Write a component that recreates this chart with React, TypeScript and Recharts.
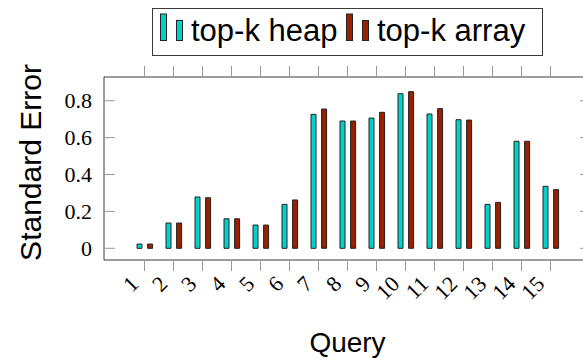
import { BarChart, Bar, XAxis, YAxis, Legend } from 'recharts';

const queries = ['1', '2', '3', '4', '5', '6', '7', '8', '9', '10', '11', '12', '13', '14', '15'];
const heapErr = [0.023, 0.137, 0.278, 0.16, 0.126, 0.238, 0.726, 0.69, 0.706, 0.838, 0.728, 0.697, 0.238, 0.58, 0.336];
const arrayErr = [0.023, 0.137, 0.274, 0.16, 0.126, 0.262, 0.755, 0.69, 0.737, 0.849, 0.757, 0.695, 0.249, 0.58, 0.318];
const yTicks = [0, 0.2, 0.4, 0.6, 0.8];
const seriesNames = ['top-k heap', 'top-k array'];

const data = queries.map((q, i) => ({ q, heap: heapErr[i], array: arrayErr[i] }));

const TICK_GRAY = '#999999';
const BOX = '#3a3a3a';
const serif = '"Liberation Serif", serif';
const sans = '"Liberation Sans", Arial, sans-serif';

const XTick = ({ x, y, payload }: any) => (
  <text
    x={x - 10}
    y={y + 7}
    textAnchor="end"
    dominantBaseline="central"
    transform={`rotate(-45, ${x - 10}, ${y + 7})`}
    fontFamily={serif}
    fontSize={22}
    fill="#000"
  >
    {payload.value}
  </text>
);

const NoLabel = () => <g />;

const YTick = ({ x, y, payload }: any) => (
  <g>
    <line x1={x} x2={x + 11} y1={y} y2={y} stroke={TICK_GRAY} strokeWidth={1} />
    <text x={x - 12} y={y} textAnchor="end" dominantBaseline="central" fontFamily={serif} fontSize={22} fill="#000">
      {payload.value === 0 ? '0' : payload.value.toFixed(1)}
    </text>
  </g>
);

const LegendBox = ({ payload }: any) => {
  const starts = [8, 194];
  const items = seriesNames
    .map((n) => (payload || []).find((p: any) => p.value === n))
    .filter(Boolean);
  return (
    <svg width={391} height={48} style={{ display: 'block' }}>
      <rect x={0.5} y={0.5} width={390} height={47} fill="#fff" stroke={BOX} />
      {items.map((p: any, i: number) => (
        <g key={p.value} transform={`translate(${starts[i]},0)`}>
          <rect x={0.5} y={6} width={6} height={26.5} fill={p.color} stroke="#222" />
          <rect x={16.5} y={12.5} width={6} height={20} fill={p.color} stroke="#222" />
          <text x={31} y={32.5} fontFamily={sans} fontSize={31} fill="#000">
            {p.value}
          </text>
        </g>
      ))}
    </svg>
  );
};

export default function App() {
  return (
    <div style={{ position: 'absolute', left: 0, top: 0, width: 583, height: 363, overflow: 'hidden', background: '#fff' }}>
      <BarChart
        width={591}
        height={363}
        data={data}
        margin={{ top: 76, right: 0, bottom: 0, left: 0 }}
        barSize={5}
        barGap={5.6}
      >
        <XAxis
          dataKey="q"
          height={103}
          padding={{ left: 26, right: 26 }}
          tickSize={11}
          tickLine={{ stroke: TICK_GRAY }}
          axisLine={{ stroke: BOX }}
          tick={<XTick />}
          interval={0}
          label={{ value: 'Query', position: 'insideBottom', offset: 11, dx: 0, fontFamily: sans, fontSize: 28, fill: '#000' }}
        />
        <XAxis
          xAxisId="top"
          dataKey="q"
          orientation="top"
          height={1}
          padding={{ left: 26, right: 26 }}
          tickSize={11}
          tickLine={{ stroke: TICK_GRAY }}
          axisLine={{ stroke: BOX }}
          tick={<NoLabel />}
          interval={0}
        />
        <YAxis
          width={104}
          domain={[-0.0634, 0.9285]}
          ticks={yTicks}
          allowDataOverflow
          tickSize={0}
          tickMargin={0}
          tickLine={false}
          axisLine={{ stroke: BOX }}
          tick={<YTick />}
          label={{
            content: ({ viewBox }: any) => (
              <text
                x={0}
                y={0}
                transform={`translate(${viewBox.x + 30}, ${viewBox.y + viewBox.height / 2 - 6}) rotate(-90)`}
                textAnchor="middle"
                dominantBaseline="central"
                fontFamily={sans}
                fontSize={30}
                fill="#000"
              >
                Standard Error
              </text>
            ),
          }}
        />
        <YAxis
          yAxisId="right"
          orientation="right"
          mirror
          width={1}
          domain={[-0.0634, 0.9285]}
          ticks={yTicks}
          allowDataOverflow
          tickSize={11}
          tickLine={{ stroke: TICK_GRAY }}
          axisLine={{ stroke: BOX }}
          tick={<NoLabel />}
        />
        <Legend
          layout="horizontal"
          verticalAlign="middle"
          align="center"
          wrapperStyle={{ position: 'absolute', left: 152, top: 8, width: 391, height: 48 }}
          content={<LegendBox />}
        />
        <Bar dataKey="heap" name="top-k heap" fill="#00d2cb" stroke="#222" strokeWidth={1} isAnimationActive={false} />
        <Bar dataKey="array" name="top-k array" fill="#992000" stroke="#222" strokeWidth={1} isAnimationActive={false} />
      </BarChart>
    </div>
  );
}
